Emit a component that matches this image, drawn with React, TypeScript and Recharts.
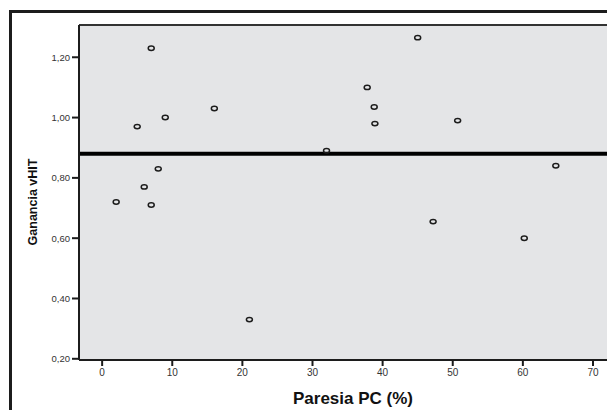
import { ScatterChart, Scatter, XAxis, YAxis, CartesianGrid, ReferenceLine } from 'recharts'

// Paresia PC (%) vs Ganancia vHIT, one entry per patient
const paresiaPC = [2, 5, 6, 7, 7, 8, 9, 16, 21, 32, 37.8, 38.8, 38.9, 45, 47.2, 50.7, 60.2, 64.7]
const gananciaVHIT = [0.72, 0.97, 0.77, 1.23, 0.71, 0.83, 1.0, 1.03, 0.33, 0.89, 1.1, 1.035, 0.98, 1.265, 0.655, 0.99, 0.6, 0.84]

const xTicks = [0, 10, 20, 30, 40, 50, 60, 70]
const yTicks = [0.2, 0.4, 0.6, 0.8, 1.0, 1.2]
const xDomain = [-3.3, 72]
const yDomain = [0.196, 1.307]
const meanGanancia = 0.88

const points = paresiaPC.map((x, i) => ({ x, y: gananciaVHIT[i] }))

const COLORS = {
  plotBg: '#e4e5e7',
  ink: '#1c1c1c',
  tick: '#333333',
}

const FONT = 'Arial, "Liberation Sans", Helvetica, sans-serif'

const OpenDot = (props: any) => {
  const { cx, cy } = props
  if (cx == null || cy == null) return null
  return <ellipse cx={cx} cy={cy} rx={3} ry={2.2} fill="none" stroke={COLORS.ink} strokeWidth={1.5} />
}

const fmt = (v: number) => v.toFixed(2).replace('.', ',')

export default function App() {
  return (
    <div
      style={{
        position: 'absolute',
        left: 0,
        top: 0,
        width: 607,
        height: 410,
        overflow: 'hidden',
        background: '#fff',
        fontFamily: FONT,
      }}
    >
      {/* outer frame */}
      <div
        style={{
          position: 'absolute',
          left: 9,
          top: 10,
          width: 640,
          height: 440,
          borderLeft: `3px solid ${COLORS.ink}`,
          borderTop: `3px solid ${COLORS.ink}`,
        }}
      />
      <div style={{ position: 'absolute', left: 0, top: 0 }}>
        <ScatterChart width={607} height={410} margin={{ top: 25, right: 0, bottom: 0, left: 0 }}>
          <CartesianGrid horizontal={false} vertical={false} fill={COLORS.plotBg} />
          <XAxis
            type="number"
            dataKey="x"
            domain={xDomain}
            ticks={xTicks}
            allowDataOverflow
            height={50}
            stroke={COLORS.ink}
            strokeWidth={2}
            tickSize={6}
            tickMargin={3}
            tick={{ fontSize: 10, fill: COLORS.tick, fontFamily: FONT }}
            label={{
              value: 'Paresia PC (%)',
              position: 'insideBottom',
              offset: 6,
              dx: 10,
              style: { fontSize: 17, fontWeight: 'bold', fill: '#111', fontFamily: FONT },
            }}
          />
          <YAxis
            type="number"
            dataKey="y"
            domain={yDomain}
            ticks={yTicks}
            allowDataOverflow
            width={79}
            stroke={COLORS.ink}
            strokeWidth={2}
            tickSize={7}
            tickMargin={2}
            tickFormatter={fmt}
            tick={{ fontSize: 9.5, fill: COLORS.tick, fontFamily: FONT }}
            label={{
              value: 'Ganancia vHIT',
              angle: -90,
              position: 'center',
              dx: -6.5,
              dy: 9.5,
              style: { fontSize: 12.5, fontWeight: 'bold', fill: '#111', fontFamily: FONT, textAnchor: 'middle' },
            }}
          />
          <ReferenceLine y={yDomain[1]} stroke="#333" strokeWidth={2} />
          <ReferenceLine y={meanGanancia} stroke="#000" strokeWidth={4} />
          <Scatter data={points} shape={OpenDot} isAnimationActive={false} />
        </ScatterChart>
      </div>
    </div>
  )
}
